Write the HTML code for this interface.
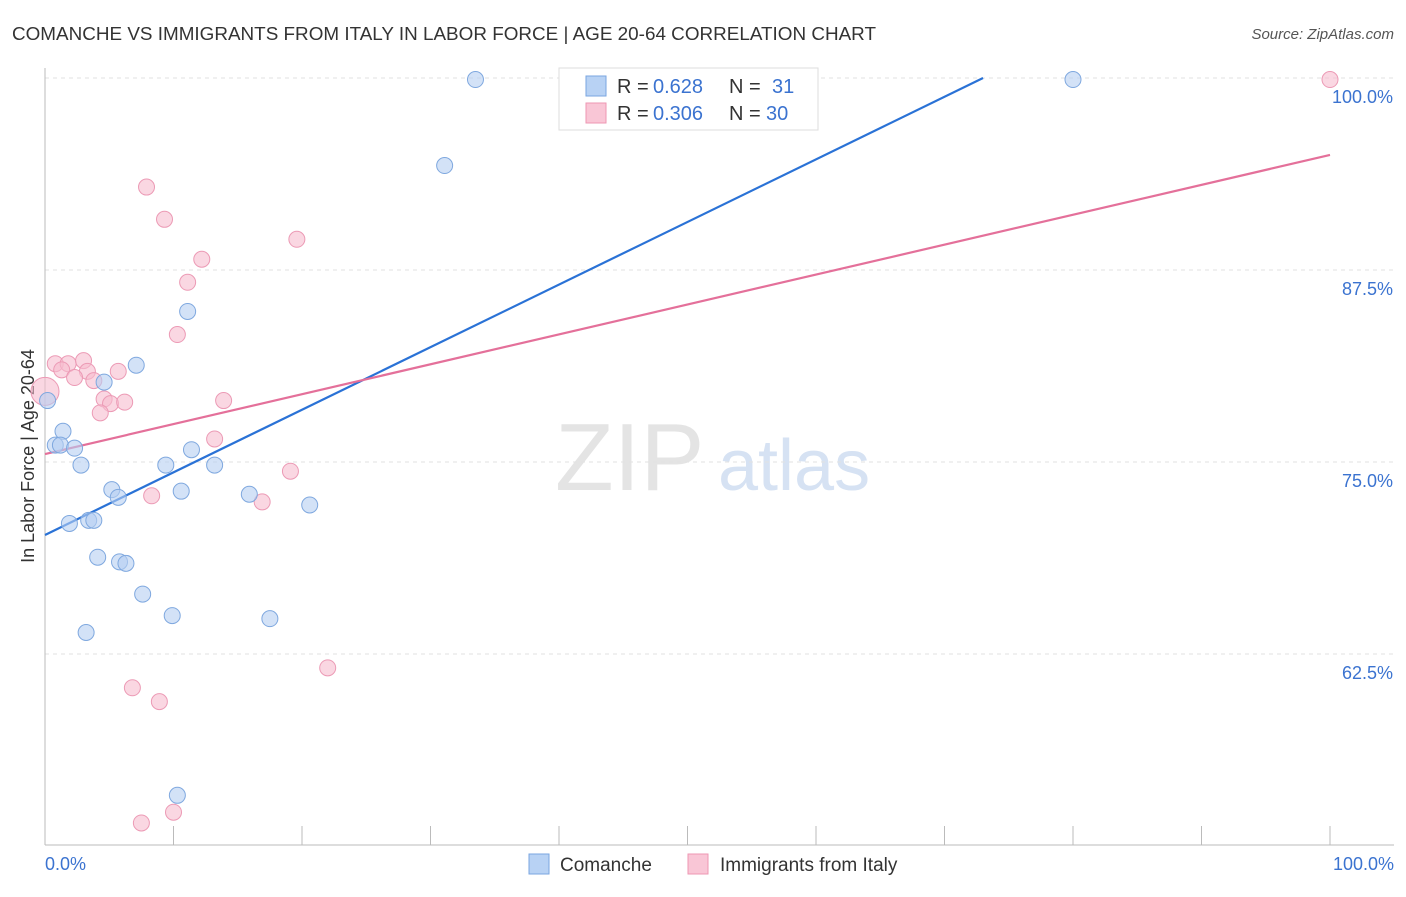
<!DOCTYPE html>
<html><head><meta charset="utf-8"><style>
body{margin:0;background:#fff;font-family:"Liberation Sans",sans-serif;}
svg text{font-family:"Liberation Sans",sans-serif;}
</style></head><body>
<svg id="c" width="1406" height="892" xmlns="http://www.w3.org/2000/svg">
<text x="12" y="40" font-size="18" fill="#333" textLength="864" lengthAdjust="spacingAndGlyphs">COMANCHE VS IMMIGRANTS FROM ITALY IN LABOR FORCE | AGE 20-64 CORRELATION CHART</text>
<text x="1394" y="39" font-size="15" fill="#555" font-style="italic" text-anchor="end">Source: ZipAtlas.com</text>
<text x="555" y="490" font-size="96" fill="#e4e4e4" font-family="Liberation Serif">ZIP</text>
<text x="718" y="490" font-size="72" fill="#d6e2f3">atlas</text>
<text x="34" y="456" font-size="18" fill="#333" text-anchor="middle" transform="rotate(-90 34 456)">In Labor Force | Age 20-64</text>
<g id="grid"></g><g id="axes"></g><g id="lines"></g><g id="pts"></g>
<g>
<rect x="559" y="68" width="259" height="62" fill="#fff" stroke="#ddd"/>
<rect x="586" y="76" width="20" height="20" fill="#b8d2f4" stroke="#7aa6e0"/>
<rect x="586" y="103" width="20" height="20" fill="#f9c6d6" stroke="#ee97b3"/>
<text x="617" y="93" font-size="20" fill="#333">R =</text>
<text x="653" y="93" font-size="20" fill="#3b73d0">0.628</text>
<text x="729" y="93" font-size="20" fill="#333">N =</text>
<text x="772" y="93" font-size="20" fill="#3b73d0">31</text>
<text x="617" y="120" font-size="20" fill="#333">R =</text>
<text x="653" y="120" font-size="20" fill="#3b73d0">0.306</text>
<text x="729" y="120" font-size="20" fill="#333">N =</text>
<text x="766" y="120" font-size="20" fill="#3b73d0">30</text>
</g>
<g>
<rect x="529" y="854" width="20" height="20" fill="#b8d2f4" stroke="#7aa6e0"/>
<text x="560" y="871" font-size="19" fill="#333">Comanche</text>
<rect x="688" y="854" width="20" height="20" fill="#f9c6d6" stroke="#ee97b3"/>
<text x="720" y="871" font-size="19" fill="#333">Immigrants from Italy</text>
</g>
</svg>
<script>
const yTicks=[100,87.5,75,62.5];
const yTickLabels=["100.0%","87.5%","75.0%","62.5%"];
const xTicks=[0,10,20,30,40,50,60,70,80,90,100];
const comancheX=[33.5,80.0,31.1,11.1,7.1,4.6,0.2,1.4,0.8,1.2,2.3,2.8,9.4,11.4,13.2,5.2,5.7,10.6,15.9,20.6,1.9,3.4,3.8,4.1,5.8,6.3,7.6,9.9,17.5,3.2,10.3];
const comancheY=[99.9,99.9,94.3,84.8,81.3,80.2,79.0,77.0,76.1,76.1,75.9,74.8,74.8,75.8,74.8,73.2,72.7,73.1,72.9,72.2,71.0,71.2,71.2,68.8,68.5,68.4,66.4,65.0,64.8,63.9,53.3];
const italyX=[100,7.9,9.3,19.6,12.2,11.1,10.3,0.8,1.8,3.0,1.3,3.3,2.3,3.8,5.7,0,4.6,5.1,6.2,4.3,13.9,13.2,19.1,8.3,16.9,22.0,6.8,8.9,7.5,10.0];
const italyY=[99.9,92.9,90.8,89.5,88.2,86.7,83.3,81.4,81.4,81.6,81.0,80.9,80.5,80.3,80.9,79.6,79.1,78.8,78.9,78.2,79.0,76.5,74.4,72.8,72.4,61.6,60.3,59.4,51.5,52.2];
const comancheLine=[[0,70.25],[73,100]];
const italyLine=[[0,75.52],[100,94.99]];
const X=v=>45+v*12.85, Y=v=>78+(100-v)*15.36;
const NS="http://www.w3.org/2000/svg";
function mk(t,a,p){const e=document.createElementNS(NS,t);for(const k in a)e.setAttribute(k,a[k]);document.getElementById(p).appendChild(e);return e;}
yTicks.forEach((t,i)=>{
 const l=mk('line',{x1:45,x2:1394,y1:Y(t),y2:Y(t),stroke:'#e2e2e2','stroke-dasharray':'4,4'},'grid');
 
 
 const tx=mk('text',{x:1393,y:Y(t)+25,'font-size':18,fill:'#3b73d0','text-anchor':'end'},'grid');
 tx.textContent=yTickLabels[i];
 
 
});
const ax=mk('line',{x1:45,x2:45,y1:68,y2:845,stroke:'#bbb'},'axes');


const bx=mk('line',{x1:45,x2:1394,y1:845,y2:845,stroke:'#bbb'},'axes');


xTicks.forEach(t=>{const l=mk('line',{x1:X(t),x2:X(t),y1:826,y2:845,stroke:'#bbb'},'axes');
 
 });
[[45,"0.0%","start"],[1394,"100.0%","end"]].forEach(d=>{const t=mk('text',{x:d[0],y:870,'font-size':18,fill:'#3b73d0','text-anchor':d[2]},'axes');t.textContent=d[1];
 
 });
function line(d,c,n){const l=mk('line',{x1:X(d[0][0]),y1:Y(d[0][1]),x2:X(d[1][0]),y2:Y(d[1][1]),stroke:c,'stroke-width':2.2},'lines');
 
 }
line(comancheLine,'#2a72d6','comanche-trend-line');
line(italyLine,'#e4709a','italy-trend-line');
function pts(xs,ys,f,s,n){xs.forEach((x,i)=>{const c=mk('circle',{cx:X(x),cy:Y(ys[i]),r:(x===0&&n==='italy-point')?14:8,fill:f,'fill-opacity':0.6,stroke:s},'pts');
 
 });}
pts(italyX,italyY,'#f6bccf','#ec9ab5','italy-point');
pts(comancheX,comancheY,'#b5cff2','#7fa8df','comanche-point');
</script>
</body></html>
